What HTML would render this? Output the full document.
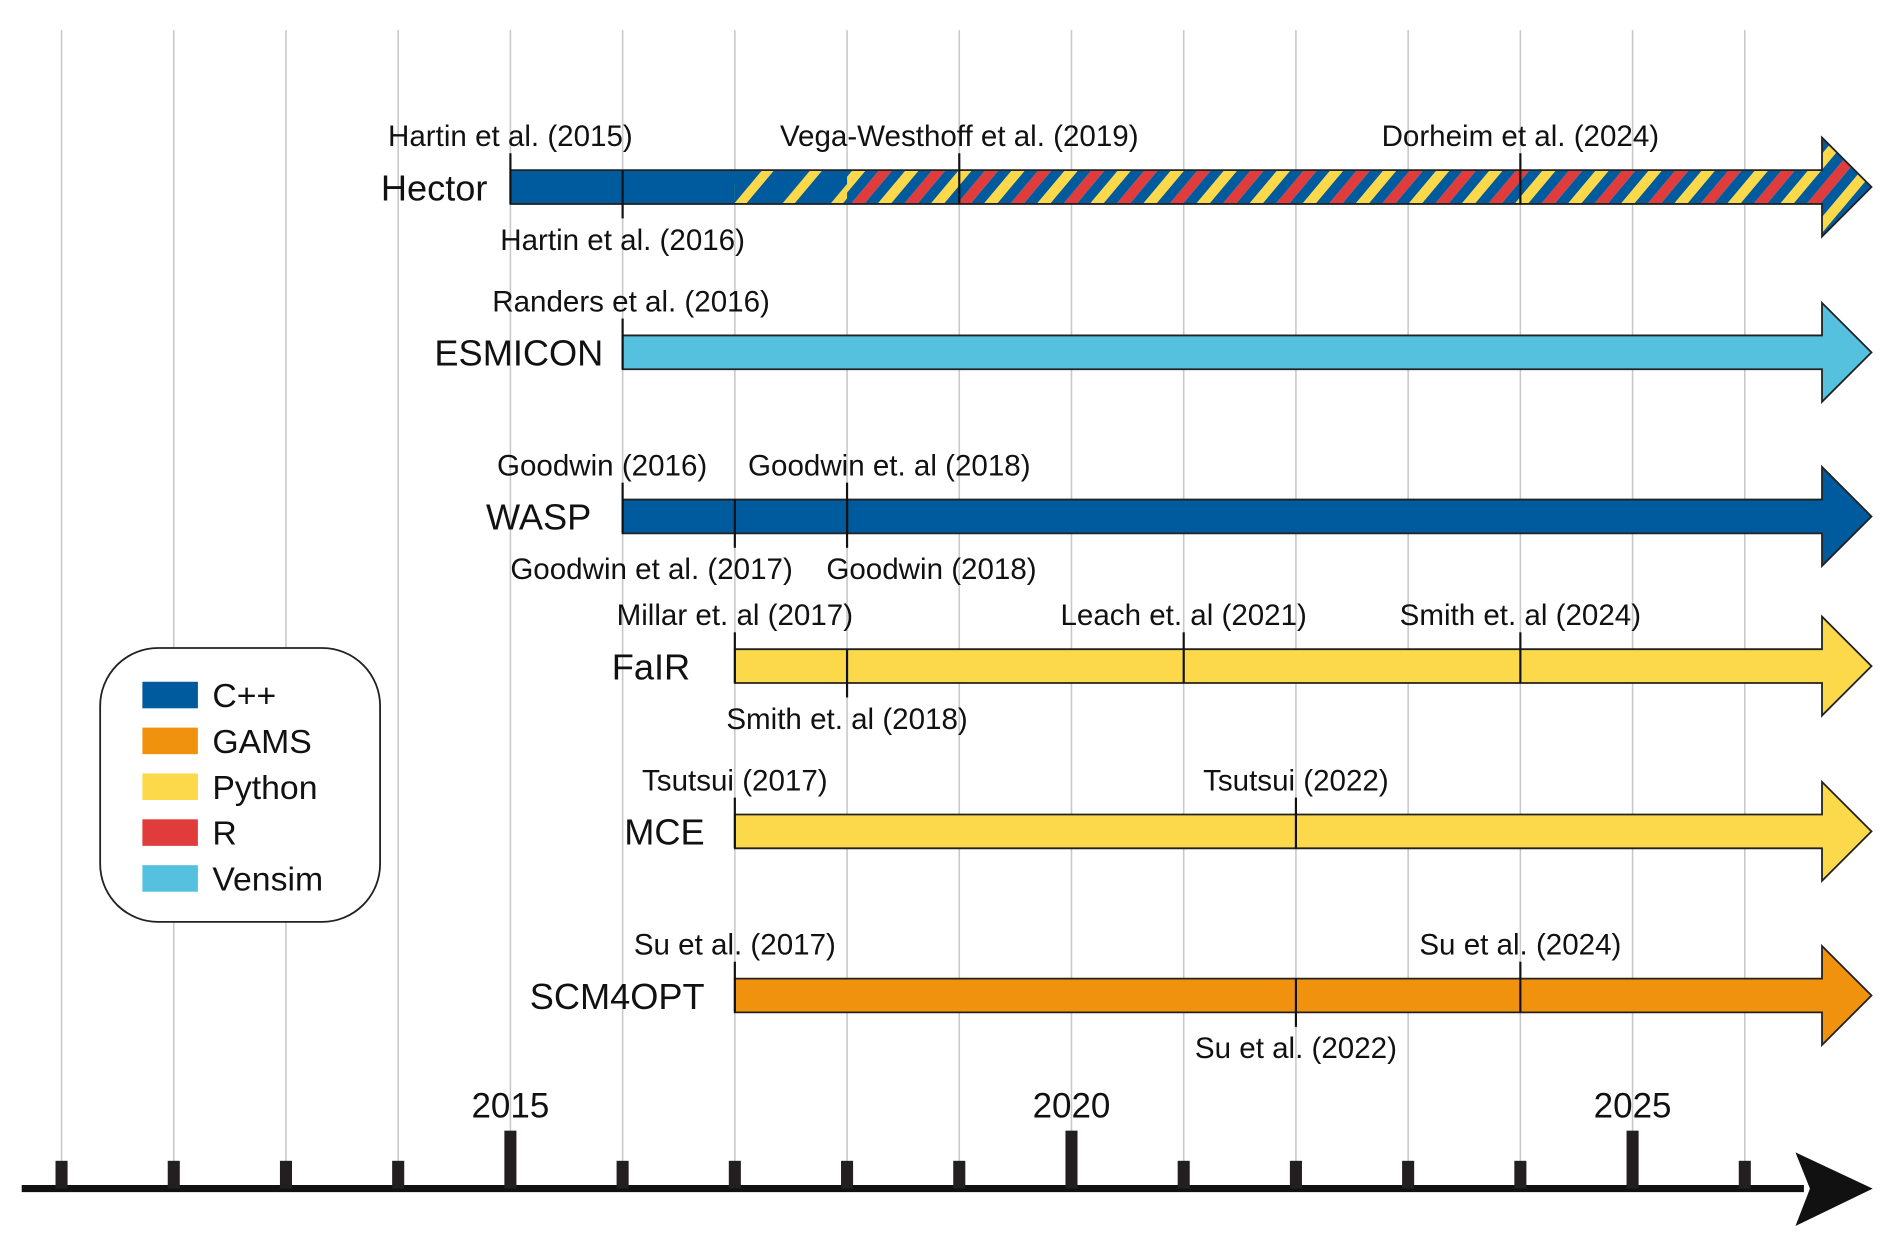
<!DOCTYPE html>
<html><head><meta charset="utf-8"><style>
html,body{margin:0;padding:0;background:#fff}
svg{display:block}
text{font-family:"Liberation Sans",sans-serif;fill:#111}
</style></head><body>
<svg id="chart" width="1892" height="1246" viewBox="0 0 1568 1032.6" preserveAspectRatio="none" xmlns="http://www.w3.org/2000/svg">
<defs>
<pattern id="p3b" patternUnits="userSpaceOnUse" width="44" height="40" patternTransform="skewX(-40)">
<rect x="0" y="0" width="11" height="40" fill="#005a9e"/><rect x="11" y="0" width="11" height="40" fill="#e03c3c"/><rect x="22" y="0" width="11" height="40" fill="#005a9e"/><rect x="33" y="0" width="11" height="40" fill="#fcd94a"/>
</pattern>
<pattern id="p2" patternUnits="userSpaceOnUse" width="40" height="40" patternTransform="skewX(-40)">
<rect x="0" y="0" width="30" height="40" fill="#005a9e"/><rect x="30" y="0" width="10" height="40" fill="#fcd94a"/>
</pattern>
</defs>
<g id="grid"></g>
<g id="axis"></g>
<g id="bars"></g>
<g id="cites"></g>
<g id="legend"></g>
</svg>
<script>
const years = [2011,2012,2013,2014,2015,2016,2017,2018,2019,2020,2021,2022,2023,2024,2025,2026];
const majorYears = [2015,2020,2025];
const models = ["Hector","ESMICON","WASP","FaIR","MCE","SCM4OPT"];
const startYears = [2015,2016,2016,2017,2017,2017];
const modelColors = ["#005a9e","#56c1df","#005a9e","#fcd94a","#fcd94a","#f1920e"];
const citeModel = [0,0,0,0,1,2,2,2,2,3,3,3,3,4,4,5,5,5];
const citeYear = [2015,2016,2019,2024,2016,2016,2017,2018,2018,2017,2018,2021,2024,2017,2022,2017,2022,2024];
const citeSide = ["up","down","up","up","up","up","down","up","down","up","down","up","up","up","up","up","down","up"];
const citeLabels = ["Hartin et al. (2015)","Hartin et al. (2016)","Vega-Westhoff et al. (2019)","Dorheim et al. (2024)","Randers et al. (2016)","Goodwin (2016)","Goodwin et al. (2017)","Goodwin et. al (2018)","Goodwin (2018)","Millar et. al (2017)","Smith et. al (2018)","Leach et. al (2021)","Smith et. al (2024)","Tsutsui (2017)","Tsutsui (2022)","Su et al. (2017)","Su et al. (2022)","Su et al. (2024)"];
const legendNames = ["C++","GAMS","Python","R","Vensim"];
const legendColors = ["#005a9e","#f1920e","#fcd94a","#e03c3c","#56c1df"];

// layout (not data)
const rowCenters = [155,292,428,552,689,825];
const labelGap = [19,16,26,37,25,25];
const labelShift = [0,0,0,0,7,-17,-69,35,70,0,0,0,0,0,0,0,0,0];

const NS="http://www.w3.org/2000/svg";
const xOf = y => 423 + (y-2015)*93;
const rowY = i => rowCenters[i];
const BH = 14, HH = 41, BODY_END = 1510, TIP = 1551;
function mk(tag, attrs, parent){const e=document.createElementNS(NS,tag);for(const k in attrs)e.setAttribute(k,attrs[k]);parent.appendChild(e);return e;}

const grid=document.getElementById('grid');
years.forEach(y=>{
  const l=mk('line',{x1:xOf(y),x2:xOf(y),y1:25,y2:965,stroke:'#c8c8c8','stroke-width':1.3},grid);
  
  
});

const axis=document.getElementById('axis');
const al=mk('line',{x1:18,x2:1495,y1:985,y2:985,stroke:'#111','stroke-width':6},axis);


const ah=mk('polygon',{points:'1488,955 1552,985 1488,1016 1500,985',fill:'#111'},axis);


years.forEach(y=>{
  const maj=majorYears.includes(y);
  const t=mk('rect',{x:xOf(y)-5,y:maj?937:962,width:10,height:maj?48:23,fill:'#231f20'},axis);
  
  
  if(maj){
    const tx=mk('text',{x:xOf(y),y:926,'text-anchor':'middle','font-size':29},axis);
    tx.textContent=y;
    
    
  }
});

const bars=document.getElementById('bars');
function arrowPts(x0,cy){return `${x0},${cy-BH} ${BODY_END},${cy-BH} ${BODY_END},${cy-HH} ${TIP},${cy} ${BODY_END},${cy+HH} ${BODY_END},${cy+BH} ${x0},${cy+BH}`;}
models.forEach((m,i)=>{
  const cy=rowY(i), x0=xOf(startYears[i]);
  const g=mk('g',{},bars);
  
  
  if(m==='Hector'){
    mk('polygon',{points:arrowPts(x0,cy),fill:'url(#p3b)'},g);
    mk('rect',{x:xOf(2017),y:cy-BH,width:xOf(2018)-xOf(2017),height:2*BH,fill:'url(#p2)'},g);
    mk('rect',{x:x0,y:cy-BH,width:xOf(2017)-x0,height:2*BH,fill:'#005a9e'},g);
    mk('polygon',{points:arrowPts(x0,cy),fill:'none',stroke:'#222','stroke-width':1.5},g);
  } else {
    mk('polygon',{points:arrowPts(x0,cy),fill:modelColors[i],stroke:'#222','stroke-width':1.5},g);
  }
  const t=mk('text',{x:x0-labelGap[i],y:cy+11,'text-anchor':'end','font-size':30},g);
  t.textContent=m;
  
  
});

const cites=document.getElementById('cites');
citeLabels.forEach((lab,k)=>{
  const cy=rowY(citeModel[k]), x=xOf(citeYear[k]), up=citeSide[k]==='up';
  const ln=mk('line',{x1:x,x2:x,y1:up?cy-BH-14:cy-BH,y2:up?cy+BH:cy+BH+12,stroke:'#111','stroke-width':1.8},cites);
  
  
  const t=mk('text',{x:x+labelShift[k],y:up?cy-BH-20:cy+BH+38,'text-anchor':'middle','font-size':24.5},cites);
  t.textContent=lab;
  
  
});

const lg=document.getElementById('legend');
const box=mk('rect',{x:83,y:537,width:232,height:227,rx:48,ry:48,fill:'#fff',stroke:'#222','stroke-width':1.5},lg);


legendNames.forEach((n,i)=>{
  const cy=576+i*38;
  const g=mk('g',{},lg);
  
  
  mk('rect',{x:118,y:cy-11,width:46,height:22,fill:legendColors[i]},g);
  const t=mk('text',{x:176,y:cy+10,'font-size':28},g);
  t.textContent=n;
});
</script>
</body></html>
